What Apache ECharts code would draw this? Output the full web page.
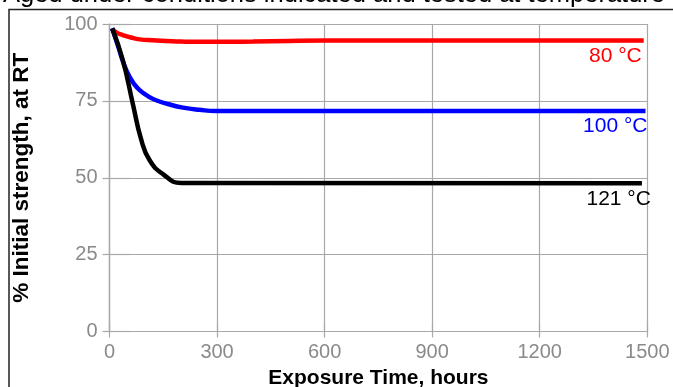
<!DOCTYPE html>
<html>
<head>
<meta charset="utf-8">
<script src="https://cdn.jsdelivr.net/npm/echarts@6/dist/echarts.min.js"></script>
<style>html,body{margin:0;padding:0;background:#fff;}#c{width:673px;height:387px;}</style>
</head>
<body>
<div id="c"></div>
<script>
var titleText = 'Aged under conditions indicated and tested at temperature';
var xName = 'Exposure Time, hours';
var yName = '% Initial strength, at RT';
var xTicks = [0, 300, 600, 900, 1200, 1500];
var yTicks = [0, 25, 50, 75, 100];
var seriesNames = ['80 °C', '100 °C', '121 °C'];
var red80 = [[7.5,98.4],[20,97.2],[37,96.4],[60,95.6],[84,95.0],[120,94.7],[158,94.5],[200,94.3],[252,94.2],[300,94.2],[400,94.3],[500,94.5],[600,94.6],[800,94.6],[1490,94.6]];
var blue100 = [[7.5,98.6],[25,92.4],[40,87.0],[56,82.8],[70,80.3],[84,78.5],[105,76.7],[130,75.2],[165,73.9],[205,72.8],[250,72.1],[298,71.7],[1495,71.7]];
var black121 = [[7.5,98.6],[37,88.3],[65,74.1],[88.5,62.4],[112,55.7],[149,51.2],[200,48.3],[1485,48.2]];
var colors = ['#ff0000', '#0000ff', '#000000'];
var labelOffsets = [[-2, 0], [2, 0], [9, 0]];

var chart = echarts.init(document.getElementById('c'));
var gridCol = '#a8a8a8';
function mkSeries(name, data, color, off) {
  var d = data.map(function (p, i) {
    if (i === data.length - 1) {
      return { value: p, label: { show: true, formatter: name, position: 'bottom', align: 'right', distance: 5, offset: off, color: color, fontSize: 21, fontFamily: 'Liberation Sans' } };
    }
    return p;
  });
  return { type: 'line', name: name, data: d, smooth: 0.5, showSymbol: true, symbol: 'circle', symbolSize: 0, label: { show: false }, lineStyle: { color: color, width: 4.5 }, itemStyle: { color: color, borderWidth: 0 }, emphasis: { disabled: true }, animation: false, z: 3 };
}
var tickFmt = function (v) { return String(v); };
var option = {
  animation: false,
  grid: { left: 109.5, right: 25.7, top: 24, bottom: 55.5, containLabel: false, outerBoundsMode: 'none' },
  xAxis: [{
    type: 'value', min: 0, max: 1500, interval: 300,
    name: xName, nameLocation: 'middle', nameGap: 34,
    nameTextStyle: { fontFamily: 'Liberation Sans', fontWeight: 'bold', fontSize: 21, color: '#000' },
    axisLine: { show: true, lineStyle: { color: gridCol, width: 1.2 } },
    axisTick: { show: true, length: 6, lineStyle: { color: gridCol, width: 1.2 } },
    axisLabel: { color: '#8a8a8a', fontSize: 20, fontFamily: 'Liberation Sans', margin: 11, formatter: tickFmt },
    splitLine: { show: true, lineStyle: { color: gridCol, width: 1.2 } }
  }, {
    type: 'value', min: 0, max: 1500, interval: 300, position: 'top',
    axisLine: { show: true, lineStyle: { color: gridCol, width: 1.2 } }, axisLabel: { show: false },
    axisTick: { show: true, length: 9, lineStyle: { color: gridCol, width: 1.2 } },
    splitLine: { show: false }
  }],
  yAxis: [{
    type: 'value', min: 0, max: 100, interval: 25,
    name: yName, nameLocation: 'middle', nameGap: 76, nameRotate: 90,
    nameTextStyle: { fontFamily: 'Liberation Sans', fontWeight: 'bold', fontSize: 22.5, color: '#000' },
    axisLine: { show: true, lineStyle: { color: gridCol, width: 1.2 } },
    axisTick: { show: true, length: 7, lineStyle: { color: gridCol, width: 1.2 } },
    axisLabel: { color: '#8a8a8a', fontSize: 20, fontFamily: 'Liberation Sans', margin: 12, formatter: tickFmt },
    splitLine: { show: true, lineStyle: { color: gridCol, width: 1.2 } }
  }, {
    type: 'value', min: 0, max: 100, interval: 25, position: 'right',
    axisLine: { show: true, lineStyle: { color: gridCol, width: 1.2 } }, axisLabel: { show: false },
    axisTick: { show: true, length: 21, lineStyle: { color: gridCol, width: 1.2 } },
    splitLine: { show: false }
  }],
  graphic: [
    { type: 'rect', shape: { x: 9, y: 9.5, width: 700, height: 400 }, style: { fill: 'none', stroke: '#222', lineWidth: 1.5 }, z: 10 },
    { type: 'text', x: 3, y: -5.5, style: { text: titleText, fontFamily: 'Liberation Sans', fontSize: 25.5, fill: '#000', verticalAlign: 'middle', align: 'left' }, z: 10 }
  ],
  series: [
    mkSeries(seriesNames[0], red80, colors[0], labelOffsets[0]),
    mkSeries(seriesNames[1], blue100, colors[1], labelOffsets[1]),
    mkSeries(seriesNames[2], black121, colors[2], labelOffsets[2])
  ]
};
chart.setOption(option);
</script>
</body>
</html>
